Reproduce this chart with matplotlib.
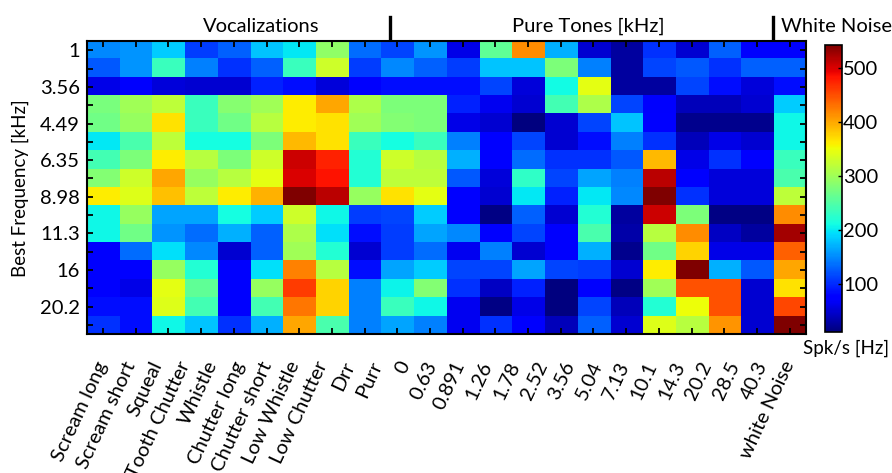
import numpy as np
import matplotlib
matplotlib.use("Agg")
import matplotlib.pyplot as plt
from matplotlib.transforms import blended_transform_factory

plt.rcParams['font.family'] = ['Lato', 'DejaVu Sans']

x_labels = ["Scream long", "Scream short", "Squeal", "Tooth Chutter", "Whistle",
            "Chutter long", "Chutter short", "Low Whistle", "Low Chutter", "Drr", "Purr",
            "0", "0.63", "0.891", "1.26", "1.78", "2.52", "3.56", "5.04", "7.13",
            "10.1", "14.3", "20.2", "28.5", "40.3", "white Noise"]
y_labels = ["1", "3.56", "4.49", "6.35", "8.98", "11.3", "16", "20.2"]

# Spk/s, 16 rows x 22 columns
rate = np.array([
    [150, 155, 185, 110, 130, 180, 200, 290, 135, 115, 155,  60, 260, 415, 170,  50,  28, 105,  50, 130,  70,  70],
    [125, 155, 235, 145, 105, 130, 235, 330, 110, 150, 130, 110, 180, 180, 277, 145,  28, 115, 125, 105, 130, 130],
    [ 60,  70,  55,  50,  50,  95,  85,  55,  70,  85,  85,  85, 115,  55, 210, 345,  28,  28, 115,  85,  55,  85],
    [275, 300, 320, 235, 285, 300, 360, 400, 310, 277, 277,  95,  65,  50, 240, 310, 115,  70,  40,  40,  50, 185],
    [270, 295, 367, 235, 270, 315, 360, 367, 300, 282, 277,  60,  50,  12,  50, 115, 180,  78,  20,  20,  20, 208],
    [200, 245, 320, 212, 212, 277, 390, 367, 235, 212, 235, 145,  78, 115,  50,  85, 145, 105,  40,  60,  50, 208],
    [240, 277, 360, 315, 277, 330, 505, 475, 220, 330, 315, 170,  78, 135, 105, 105, 125, 390,  60, 105,  78, 235],
    [282, 330, 400, 295, 315, 345, 500, 484, 220, 320, 320, 125,  55, 228, 115, 165, 145, 515,  70,  55,  55, 245],
    [360, 340, 385, 320, 360, 394, 540, 515, 295, 367, 345,  78,  50, 200,  95, 200, 150, 540, 105,  55,  55, 320],
    [208, 295, 165, 165, 212, 185, 330, 208, 110, 115, 185,  78,  15, 130,  50, 220,  28, 505, 277,  15,  15, 415],
    [208, 270, 155, 135, 170, 130, 310, 195,  85, 110, 165, 150,  78, 115,  70, 245,  32, 315, 415,  45,  28, 525],
    [ 70, 135, 195, 150,  50, 130, 300, 220,  50, 110, 135,  65, 145,  50,  70, 170,  20, 270, 375,  60,  60, 440],
    [ 70,  78, 295, 220,  70, 195, 420, 315,  85, 165, 185, 115, 115, 165, 115, 110,  50, 360, 540, 170, 125, 400],
    [ 70,  60, 345, 260,  70, 295, 460, 375, 145, 205, 282, 105,  45,  95,  12,  70,  15, 300, 447, 447,  50, 367],
    [ 85,  85, 340, 240,  70, 240, 428, 375, 145, 235, 208,  65,  15,  60,  12, 115,  40, 220, 350, 447,  50, 455],
    [105,  85, 208, 180, 105, 170, 400, 245, 145, 165, 145,  65, 105,  70,  40, 130,  50, 340, 315, 410,  50, 540],
])

nrows, ncols = rate.shape

fig = plt.figure(figsize=(8.92, 4.73), dpi=100)
ax = fig.add_axes([0.0972, 0.2932, 0.8064, 0.6201])
im = ax.imshow(rate, cmap='jet', vmin=12, vmax=542, aspect='auto',
               interpolation='nearest', extent=(0, ncols, nrows, 0))

ax.set_xticks(np.arange(ncols) + 0.5)
ax.set_xticklabels([])
ax.set_yticks(np.arange(nrows) + 0.5)
ylab = [''] * nrows
for i, lab in enumerate(y_labels):
    ylab[2 * i] = lab
ax.set_yticklabels(ylab, fontsize=14.5)
ax.tick_params(direction='in', length=4, width=1.3, top=True, right=True,
               colors='black', pad=5)
for s in ax.spines.values():
    s.set_linewidth(1.5)

ax.set_ylabel("Best Frequency [kHz]", fontsize=13.5, labelpad=8)

trans = blended_transform_factory(ax.transData, ax.transAxes)
pos = np.linspace(0.5, ncols - 0.5, len(x_labels))
for xp, lab in zip(pos, x_labels):
    ax.text(xp, -0.095, lab, transform=trans, rotation=65, ha='right', va='center',
            rotation_mode='anchor', fontsize=14.5)

# group headings
fig.text(0.293, 0.932, "Vocalizations", ha='center', va='baseline', fontsize=14.5)
fig.text(0.659, 0.932, "Pure Tones [kHz]", ha='center', va='baseline', fontsize=14.5)
fig.text(0.8756, 0.932, "White Noise", ha='left', va='baseline', fontsize=14.5)
for bx in (0.437, 0.8666):
    fig.add_artist(plt.Line2D([bx, bx], [0.92, 0.964], color='black', lw=2.4,
                              transform=fig.transFigure))

cax = fig.add_axes([0.9249, 0.2987, 0.0187, 0.6062])
cb = fig.colorbar(im, cax=cax)
cb.set_ticks([100, 200, 300, 400, 500])
cb.ax.tick_params(labelsize=14.5, direction='in', length=3, width=1, pad=1)
cb.outline.set_linewidth(1.2)
fig.text(0.948, 0.264, "Spk/s [Hz]", ha='center', va='center', fontsize=13.5)

fig.savefig("out.png", dpi=100)
